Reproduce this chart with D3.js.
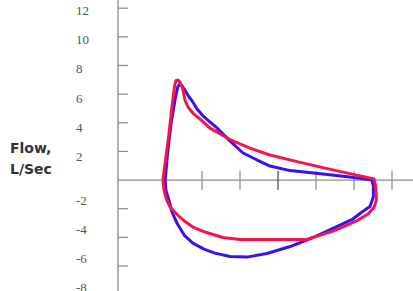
<!DOCTYPE html>
<html>
<head>
<meta charset="utf-8">
<script src="https://cdn.jsdelivr.net/npm/d3@7/dist/d3.min.js"></script>
<style>
  html, body { margin: 0; padding: 0; background: #fff; }
  svg { display: block; }
</style>
</head>
<body>
<script>
// ---- Data (volume in L, flow in L/s) ----
const yTickValues = [12, 10, 8, 6, 4, 2, -2, -4, -6, -8];
const yTickMarks = [12, 10, 8, 6, 4, 2, -2, -4, -6, -8];
const xTickValues = [1, 2, 3, 4, 5, 6];

const redVolume = [-0.03, 0.04, 0.12, 0.20, 0.28, 0.32, 0.37, 0.42, 0.49, 0.55, 0.63, 0.76, 0.95, 1.21, 1.74, 2.26, 2.79, 3.50, 4.18, 4.89, 5.53, 5.57, 5.59, 5.53, 5.37, 5.08, 4.76, 4.45, 4.11, 3.76, 3.05, 2.53, 2.00, 1.55, 1.08, 0.76, 0.50, 0.33, 0.16, 0.07, 0.00, -0.03];
const redFlow   = [0.00, 1.40, 3.00, 4.89, 6.63, 6.95, 6.98, 6.84, 6.42, 5.59, 5.10, 4.68, 4.26, 3.63, 2.83, 2.23, 1.75, 1.29, 0.87, 0.45, 0.07, -0.42, -1.40, -1.89, -2.37, -2.83, -3.21, -3.56, -3.84, -4.15, -4.15, -4.15, -4.15, -4.01, -3.63, -3.28, -2.79, -2.37, -1.89, -1.40, -0.70, 0.00];

const blueVolume = [0.03, 0.09, 0.18, 0.29, 0.36, 0.41, 0.47, 0.55, 0.66, 0.74, 0.87, 1.03, 1.37, 1.74, 2.08, 2.45, 2.79, 3.32, 4.18, 4.89, 5.47, 5.51, 5.51, 5.42, 5.21, 4.97, 4.63, 4.29, 3.92, 3.32, 2.71, 2.18, 1.74, 1.34, 1.05, 0.76, 0.53, 0.34, 0.21, 0.13, 0.05, 0.03];
const blueFlow   = [0.00, 1.75, 3.84, 5.59, 6.49, 6.70, 6.60, 6.28, 5.80, 5.52, 4.96, 4.47, 3.70, 2.72, 1.89, 1.40, 0.98, 0.66, 0.42, 0.21, 0.00, -0.42, -1.19, -1.85, -2.23, -2.72, -3.14, -3.56, -4.01, -4.64, -5.13, -5.38, -5.34, -5.10, -4.82, -4.40, -3.84, -3.00, -2.23, -1.40, -0.70, 0.00];

const yLabelTitle = ["Flow,", "L/Sec"];

// ---- Layout ----
const W = 413, H = 291;
const svg = d3.select("body").append("svg").attr("width", W).attr("height", H);

const x = d3.scaleLinear().domain([0, 1]).range([164, 202]);
const y = d3.scaleLinear().domain([12, -6]).range([8.2, 266]);
// the tick labels on the original sit slightly off their tick marks
const yLabel = d3.scaleLinear().domain([12, 2, -2, -8]).range([10.5, 157, 201, 288]);

const axisX0 = 118;

// Y axis line
svg.append("line")
  .attr("x1", axisX0).attr("x2", axisX0)
  .attr("y1", 0).attr("y2", H)
  .attr("stroke", "#8a8a8a").attr("stroke-width", 1.3);

// Y tick marks
svg.selectAll("line.ytick").data(yTickMarks).enter().append("line")
  .attr("class", "ytick")
  .attr("x1", axisX0).attr("x2", axisX0 + 10)
  .attr("y1", d => y(d)).attr("y2", d => y(d))
  .attr("stroke", "#8a8a8a").attr("stroke-width", 1.2);

// Y tick labels
svg.selectAll("text.ylab").data(yTickValues).enter().append("text")
  .attr("class", "ylab")
  .attr("x", 76)
  .attr("y", d => yLabel(d))
  .attr("dy", "0.33em")
  .attr("font-family", "'Liberation Serif', 'DejaVu Serif', serif")
  .attr("font-size", 13)
  .attr("fill", "#555")
  .text(d => d);

// X axis line
svg.append("line")
  .attr("x1", axisX0).attr("x2", W)
  .attr("y1", y(0)).attr("y2", y(0))
  .attr("stroke", "#8a8a8a").attr("stroke-width", 1.3);

// X tick marks
svg.selectAll("line.xtick").data(xTickValues).enter().append("line")
  .attr("class", "xtick")
  .attr("x1", d => x(d)).attr("x2", d => x(d))
  .attr("y1", y(0) - 9).attr("y2", y(0) + 10)
  .attr("stroke", d => d === 3 ? "#444" : "#8a8a8a").attr("stroke-width", 1.2);

// Axis title
svg.selectAll("text.title").data(yLabelTitle).enter().append("text")
  .attr("class", "title")
  .attr("x", 10)
  .attr("y", (d, i) => 152.5 + i * 21.5)
  .attr("font-family", "'DejaVu Sans', sans-serif")
  .attr("font-weight", "bold")
  .attr("font-size", 14)
  .attr("fill", "#333")
  .text(d => d);

// Loops
const line = d3.line()
  .x(d => x(d[0]))
  .y(d => y(d[1]))
  .curve(d3.curveLinear);

const blue = blueVolume.map((v, i) => [v, blueFlow[i]]);
const red = redVolume.map((v, i) => [v, redFlow[i]]);

svg.append("path").datum(blue)
  .attr("d", line)
  .attr("fill", "none")
  .attr("stroke", "#3a10f2")
  .attr("stroke-width", 3)
  .attr("stroke-linejoin", "round");

svg.append("path").datum(red)
  .attr("d", line)
  .attr("fill", "none")
  .attr("stroke", "#f5154c")
  .attr("stroke-width", 3)
  .attr("stroke-linejoin", "round");
</script>
</body>
</html>
